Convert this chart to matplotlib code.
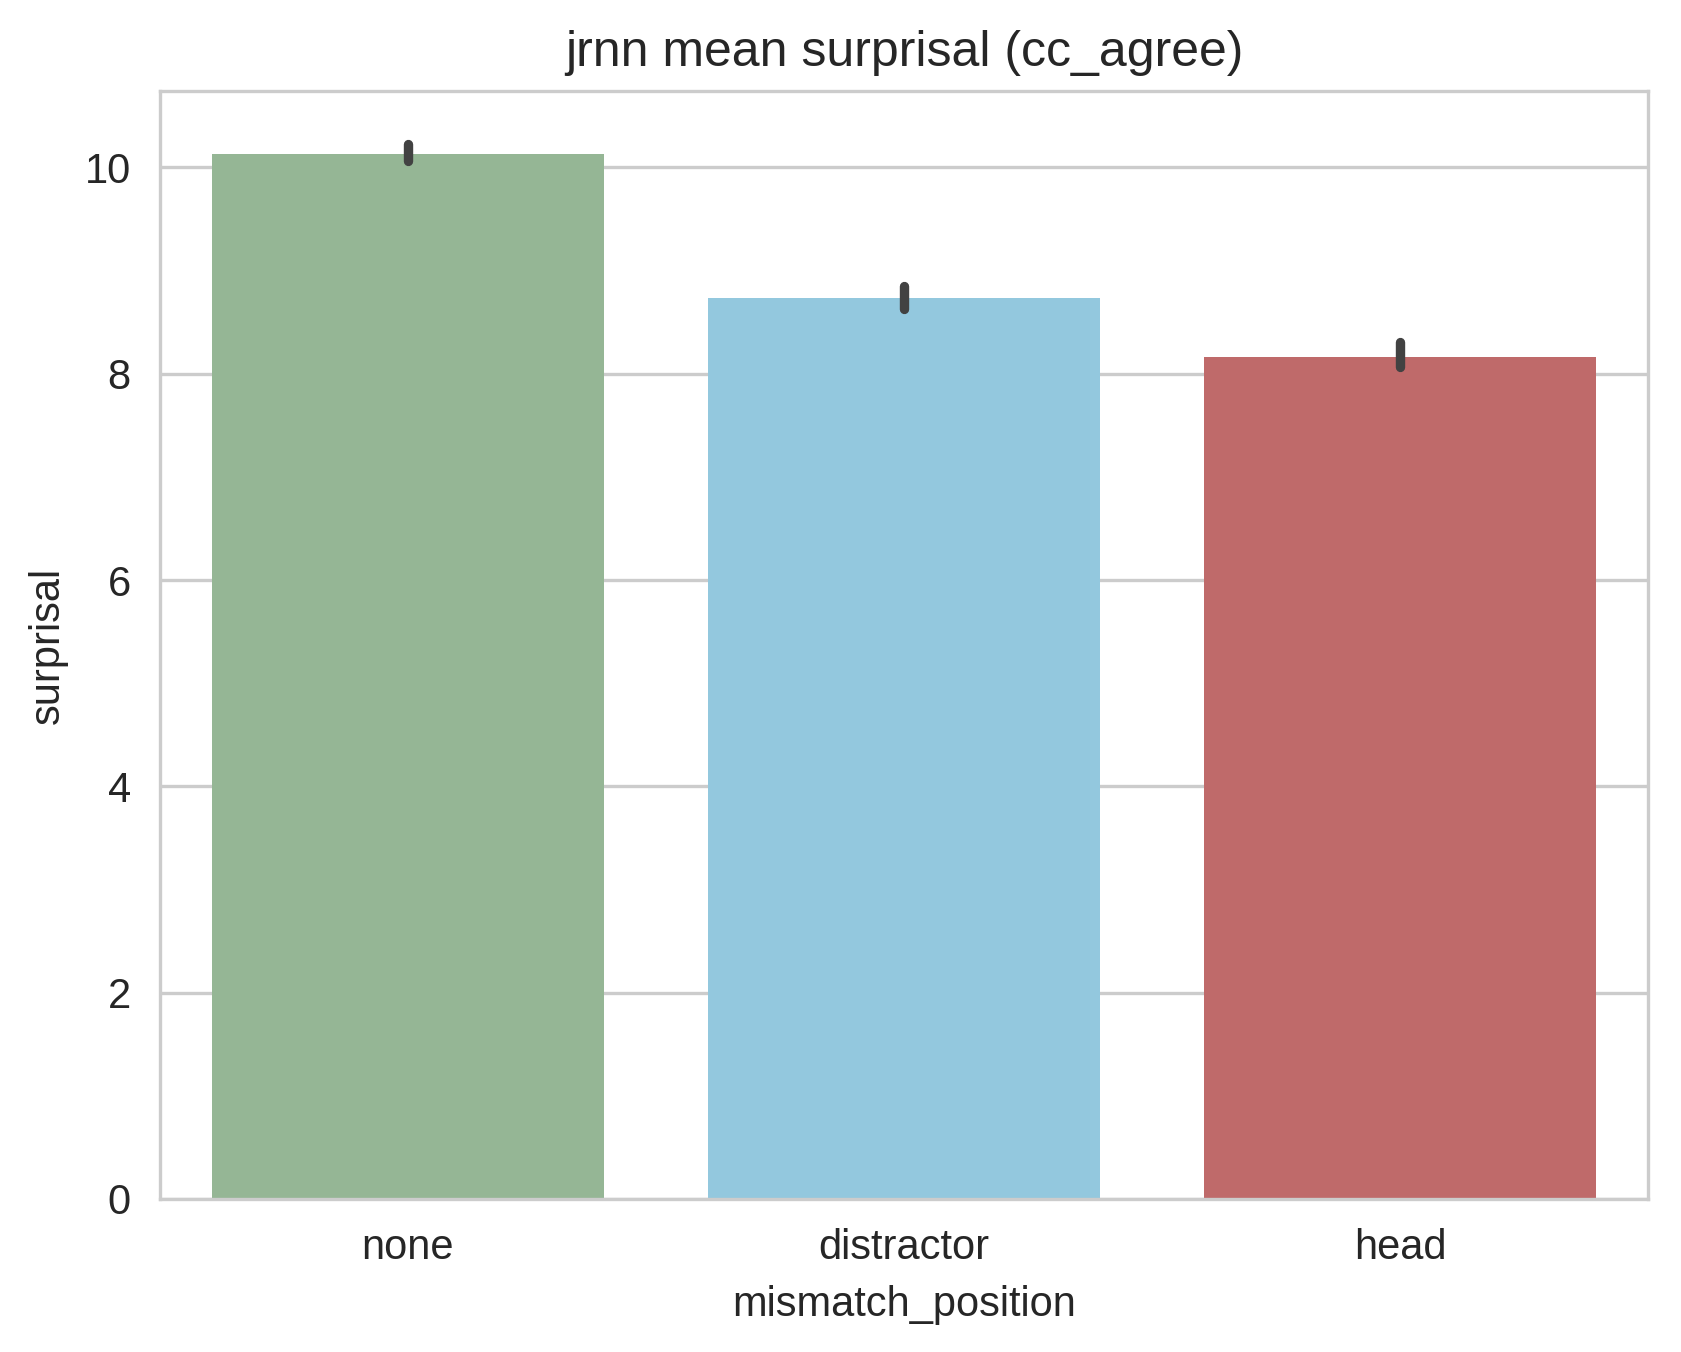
import matplotlib
matplotlib.use("Agg")
import matplotlib.pyplot as plt
import seaborn as sns

# values
positions = ["none", "distractor", "head"]
mean_surprisal = [10.13, 8.73, 8.16]
ci_low = [10.06, 8.63, 8.06]
ci_high = [10.23, 8.85, 8.31]
bar_colors = ["#95b695", "#93c8de", "#bf6a6a"]

sns.set_style("whitegrid")
plt.rcParams['font.family'] = ['Liberation Sans', 'DejaVu Sans']

fig = plt.figure(figsize=(1681 / 300, 1352 / 300), dpi=300)
ax = fig.add_axes([160 / 1681, 153 / 1352, 1488 / 1681, 1108 / 1352])

x = range(len(positions))
ax.bar(x, mean_surprisal, width=0.79, color=bar_colors, linewidth=0)
ax.vlines(x, ci_low, ci_high, color="#424242", linewidth=2.25, capstyle="round", zorder=3)

ax.set_xticks(list(x))
ax.set_xticklabels(positions)
ax.set_xlim(-0.5, 2.5)
ax.set_ylim(0, 10.74)
ax.xaxis.grid(False)
ax.set_axisbelow(True)

ax.set_xlabel("mismatch_position")
ax.set_ylabel("surprisal")
ax.set_title("jrnn mean surprisal (cc_agree)")

fig.savefig("out.png", dpi=300)
